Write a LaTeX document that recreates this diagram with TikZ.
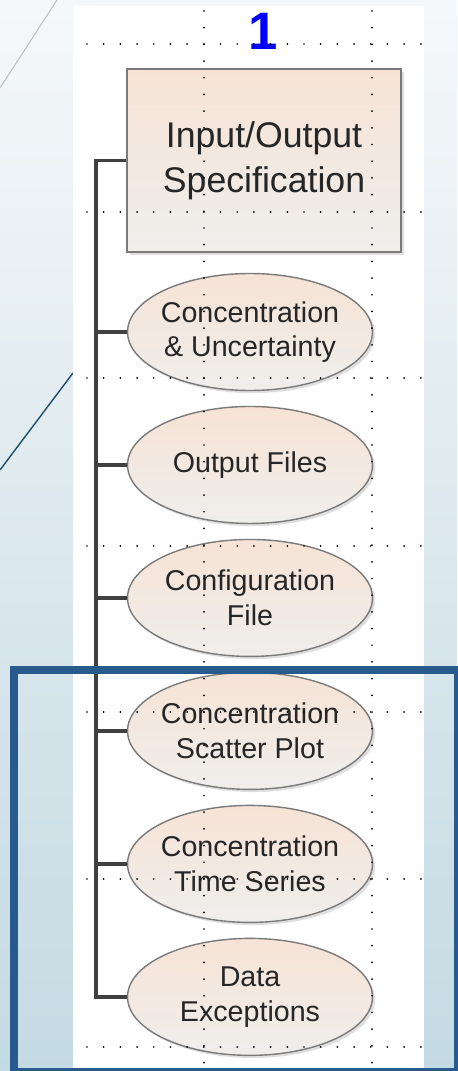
\documentclass[tikz,border=0pt]{standalone}
\usepackage{fontspec}
\setmainfont{Liberation Sans}
\usepackage{tikz}
\usetikzlibrary{shapes.geometric,shadows}
\definecolor{peach}{HTML}{F6E3D5}
\definecolor{paper}{HTML}{EFEEEC}
\definecolor{rim}{HTML}{7A7A7A}
\definecolor{ink}{HTML}{262626}
\definecolor{wire}{HTML}{404040}
\definecolor{frameblue}{HTML}{285A8E}
\definecolor{streak}{HTML}{1F4E6B}
\definecolor{skytop}{HTML}{F5F8FA}
\definecolor{skybot}{HTML}{C4DAE2}
\tikzstyle{specnode}=[draw=rim,%
                      line width=0.9pt,%
                      rectangle,%
                      top color=peach,bottom color=paper,%
                      drop shadow={shadow xshift=1.5pt,shadow yshift=-1.5pt,opacity=0.25},%
                      minimum width=5.48cm,%
                      minimum height=3.66cm,%
                      align=center,text=ink,%
                      font=\fontsize{20.3}{25.5}\selectfont]
\tikzstyle{leafnode}=[draw=rim,%
                      line width=0.8pt,%
                      ellipse,%
                      top color=peach,bottom color=paper,%
                      drop shadow={shadow xshift=1.5pt,shadow yshift=-1.5pt,opacity=0.25},%
                      minimum width=4.9cm,%
                      minimum height=2.34cm,%
                      inner xsep=-0.3cm,inner ysep=0pt,%
                      align=center,text=ink,%
                      font=\fontsize{16.3}{19.8}\selectfont,%
                      node distance=2.66cm]
\tikzstyle{link}=[draw=wire,line width=2.2pt]
\tikzstyle{gridline}=[line width=1.1pt,line cap=round,dash pattern=on 0pt off 9.5pt]

\begin{document}
\begin{tikzpicture}[x=0.02cm,y=-0.02cm]
  % backdrop and sheet
  \useasboundingbox (0,0) rectangle (457,1071);
  \shade[top color=skytop,bottom color=skybot] (0,0) rectangle (457,1071);
  \draw[black!25,line width=0.6pt] (57,0) -- (0,88);
  \draw[streak,line width=0.8pt] (73,373) -- (0,470);
  \fill[white] (73,6) rectangle (424,1071);

  \node[font=\bfseries\fontsize{30}{30}\selectfont,text=blue] (num) at (263,31.5) {1};

  \node[specnode] (spec) at (264,160.5) {Input/Output\\Specification};
  \node[leafnode] (cu) at (250,332) {Concentration\\\& Uncertainty};
  \node[leafnode][below of=cu]  (of)  {Output Files};
  \node[leafnode][below of=of]  (cf)  {Configuration\\File};
  \node[leafnode][below of=cf]  (csp) {Concentration\\Scatter Plot};
  \node[leafnode][below of=csp] (cts) {Concentration\\Time Series};
  \node[leafnode][below of=cts] (dex) {Data\\Exceptions};

  \coordinate (trunk) at (96,160.5);
  \draw[link] (spec.west) -- (trunk) |- (dex.west);
  \foreach \n in {cu,of,cf,csp,cts}
    \draw[link] (trunk |- \n.west) -- (\n.west);

  % dotted guides
  \foreach \y in {44,212,378,546,712,879,1047}
    \draw[gridline] (87,\y) -- (424,\y);
  \foreach \x in {204,372}
    \draw[gridline] (\x,11) -- (\x,1071);

  \draw[frameblue,line width=4.5pt] (14,670) rectangle (458,1072);
\end{tikzpicture}
\end{document}
